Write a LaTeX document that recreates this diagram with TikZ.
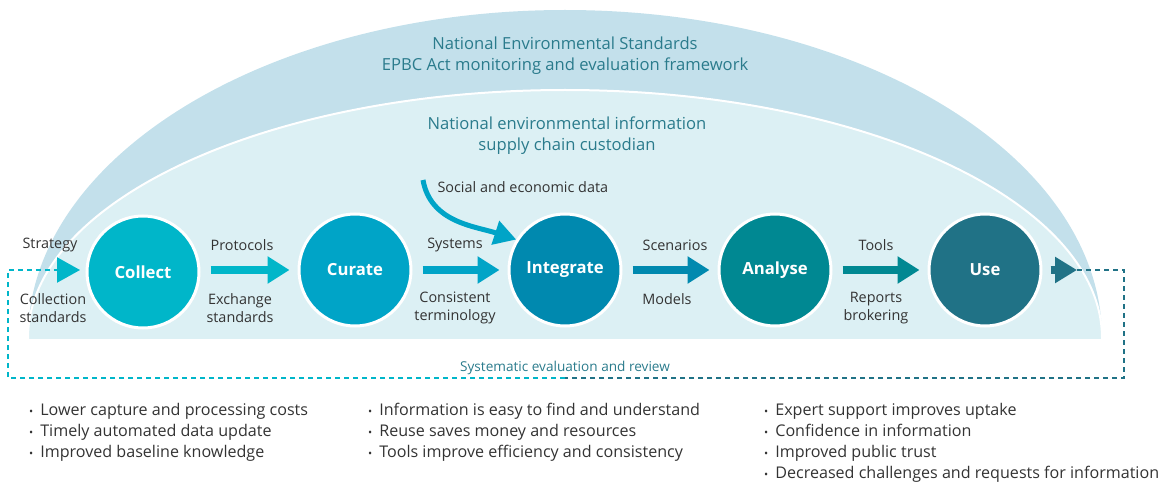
\documentclass[tikz,border=0pt]{standalone}
\usepackage{fontspec}
\setmainfont{Open Sans}
\usetikzlibrary{arrows.meta,positioning}

\definecolor{domeout}{HTML}{C3E0EB}
\definecolor{domein}{HTML}{DCF0F4}
\definecolor{titleteal}{HTML}{2A7B8C}
\definecolor{ccollect}{HTML}{00B6C9}
\definecolor{ccurate}{HTML}{00A4C7}
\definecolor{cintegrate}{HTML}{0089AF}
\definecolor{canalyse}{HTML}{008892}
\definecolor{cuse}{HTML}{207286}
\definecolor{labelgrey}{HTML}{333333}

\newcommand{\smallbullet}{{\fontsize{11}{11}\selectfont\textbullet}}

\tikzset{
	stage/.style={circle, draw=white, line width=3pt, minimum size=112pt, inner sep=0pt, text=white, font=\fontsize{16.7}{18}\selectfont\bfseries},
	flow/.style={line width=8pt, -{Triangle[length=22pt,width=26pt]}, shorten <=10pt, shorten >=8pt},
	steplabel/.style={text=labelgrey, font=\fontsize{14.4}{18}\selectfont, align=center},
	loopline/.style={line width=2.3pt, dash pattern=on 5pt off 4pt},
	headline/.style={text=titleteal, font=\fontsize{16.6}{21}\selectfont, align=center},
	benefit/.style={text=labelgrey, font=\fontsize{16.1}{21}\selectfont, anchor=north west, inner sep=0pt},
}

\begin{document}
\begin{tikzpicture}[x=1pt,y=-1pt]
	\useasboundingbox (0,0) rectangle (1163,484);
	% domes
	\begin{scope}
		\clip (0,0) rectangle (1163,338);
		\fill[domeout] (565,338) ellipse[x radius=537pt, y radius=328pt];
		\filldraw[fill=domein, draw=white, line width=2pt] (565,338) ellipse[x radius=537pt, y radius=248pt];
	\end{scope}
	\node[headline] (standards) at (565,55.5) {National Environmental Standards\\EPBC Act monitoring and evaluation framework};
	\node[headline] (custodian) at (567,135.5) {National environmental information\\supply chain custodian};

	% stages
	\node[stage, fill=ccollect] (collect) at (143,272) {Collect};
	\node[stage, fill=ccurate] (curate) at (355,270) {Curate};
	\node[stage, fill=cintegrate] (integrate) at (565,270) {Integrate};
	\node[stage, fill=canalyse] (analyse) at (775,270) {Analyse};
	\node[stage, fill=cuse] (use) at (985,270) {Use};

	\draw[flow, ccollect] (collect.east |- curate) -- (curate);
	\draw[flow, ccurate] (curate) -- (integrate);
	\draw[flow, cintegrate] (integrate) -- (analyse);
	\draw[flow, canalyse] (analyse) -- (use);

	\coordinate (useout) at (1077,270);
	\draw[cuse, line width=8pt, -{Triangle[length=22pt,width=25pt]}, shorten <=8pt] (use) -- (useout);

	% extra data
	\node[steplabel, anchor=west] (social) at (434,187) {Social and economic data};
	\coordinate (socialstart) at (423,180);
	\draw[ccurate, line width=5pt, -{Triangle[length=22pt,width=24pt]}] (socialstart) to[out=-80, in=162] (integrate.148);

	% labels
	\node[steplabel] (strategy) at (50,245) {Strategy};
	\node[steplabel] (collstd) at (53,308) {Collection\\standards};
	\node[steplabel] (protocols) at (242,245) {Protocols};
	\node[steplabel] (exchstd) at (240,308) {Exchange\\standards};
	\node[steplabel] (systems) at (455,245) {Systems};
	\node[steplabel] (terms) at (455,308) {Consistent\\terminology};
	\node[steplabel] (scenarios) at (675,245) {Scenarios};
	\node[steplabel] (models) at (667,299) {Models};
	\node[steplabel] (tools) at (876,245) {Tools};
	\node[steplabel] (reports) at (876,308) {Reports\\brokering};

	% evaluation loop
	\coordinate (loopright) at (1124,270);
	\coordinate (loopbr) at (1124,378);
	\coordinate (loopmid) at (565,378);
	\coordinate (loopbl) at (8,378);
	\coordinate (loopleft) at (8,270);
	\coordinate (strategytip) at (80,270);
	\draw[loopline, cuse] (useout) -- (loopright) -- (loopbr) -- (loopmid);
	\draw[loopline, ccollect, -{Triangle[length=23pt,width=25pt]}] (loopmid) -- (loopbl) -- (loopleft) -- (strategytip);
	\node[text=titleteal, font=\fontsize{13.6}{15}\selectfont] (review) at (565,368) {Systematic evaluation and review};

	% benefits
	\node[benefit] (gainsone) at (29,401) {\begin{tabular}{@{}l@{\hspace{7pt}}l@{}}
		\smallbullet & Lower capture and processing costs\\
		\smallbullet & Timely automated data update\\
		\smallbullet & Improved baseline knowledge
	\end{tabular}};
	\node[benefit] (gainstwo) at (368,401) {\begin{tabular}{@{}l@{\hspace{7pt}}l@{}}
		\smallbullet & Information is easy to find and understand\\
		\smallbullet & Reuse saves money and resources\\
		\smallbullet & Tools improve efficiency and consistency
	\end{tabular}};
	\node[benefit] (gainsthree) at (764,401) {\begin{tabular}{@{}l@{\hspace{7pt}}l@{}}
		\smallbullet & Expert support improves uptake\\
		\smallbullet & Confidence in information\\
		\smallbullet & Improved public trust\\
		\smallbullet & Decreased challenges and requests for information
	\end{tabular}};

\end{tikzpicture}
\end{document}
